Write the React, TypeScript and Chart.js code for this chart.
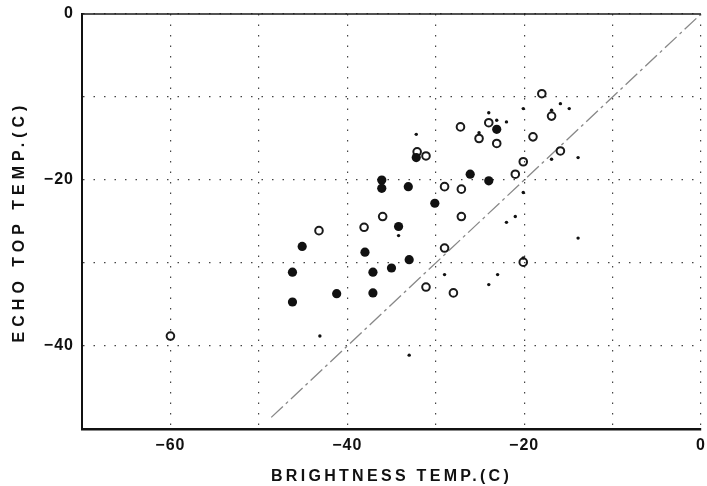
import { useEffect, useRef } from 'react';
import { Chart, registerables } from 'chart.js';

Chart.register(...registerables);

// Open circles
const openX = [-60.0, -43.2, -38.1, -36.0, -32.1, -31.1, -31.1, -29.0, -29.0, -28.0, -27.2, -27.1, -27.1, -25.1, -24.0, -23.1, -21.0, -20.1, -20.1, -19.0, -18.0, -16.9, -15.9];
const openY = [-38.8, -26.1, -25.7, -24.4, -16.6, -17.1, -32.9, -20.8, -28.2, -33.6, -13.6, -21.1, -24.4, -15.0, -13.1, -15.6, -19.3, -17.8, -29.9, -14.8, -9.6, -12.3, -16.5];

// Filled circles
const filledX = [-46.2, -46.2, -45.1, -41.2, -38.0, -37.1, -37.1, -36.1, -36.1, -35.0, -34.2, -33.1, -33.0, -32.2, -30.1, -26.1, -24.0, -23.1];
const filledY = [-31.1, -34.7, -28.0, -33.7, -28.7, -31.1, -33.6, -20.0, -21.0, -30.6, -25.6, -20.8, -29.6, -17.3, -22.8, -19.3, -20.1, -13.9];

// Small dots
const dotX = [-43.1, -34.2, -33.0, -32.2, -29.0, -25.1, -24.0, -24.0, -23.1, -23.0, -22.0, -22.0, -21.0, -20.1, -20.1, -20.1, -16.9, -16.9, -15.9, -14.9, -13.9, -13.9];
const dotY = [-38.8, -26.7, -41.1, -14.5, -31.4, -14.3, -11.9, -32.6, -12.8, -31.4, -13.0, -25.1, -24.4, -11.4, -21.5, -29.4, -11.6, -17.5, -10.8, -11.4, -17.3, -27.0];

// 1:1 reference line
const refX = [-48.6, 0];
const refY = [-48.6, 0];

const xTitle = 'BRIGHTNESS TEMP.(C)';
const yTitle = 'ECHO TOP TEMP.(C)';
const xMin = -70, xMax = 0, yMin = -50, yMax = 0;
const gridStep = 10;
const labelStep = 20;

const FONT = "'Liberation Sans', Arial, Helvetica, sans-serif";

function pts(xs: number[], ys: number[]) {
  return xs.map((x, i) => ({ x, y: ys[i] }));
}

function fmt(v: number) {
  if (v % labelStep !== 0) return '';
  return v < 0 ? '\u2212' + Math.abs(v) : String(v);
}

function spacer(titleSpacing: string, labelSpacing: string) {
  return (scale: any) => {
    if (scale.__patched) return;
    scale.__patched = true;
    const dt = scale.drawTitle.bind(scale);
    const dl = scale.drawLabels.bind(scale);
    scale.drawTitle = () => {
      const c = scale.ctx;
      c.save();
      c.letterSpacing = titleSpacing;
      dt();
      c.restore();
    };
    scale.drawLabels = (a: any) => {
      const c = scale.ctx;
      c.save();
      c.letterSpacing = labelSpacing;
      dl(a);
      c.restore();
    };
  };
}

const frameTop = {
  id: 'frameTop',
  afterDatasetsDraw(chart: any) {
    const { ctx, chartArea: a } = chart;
    ctx.save();
    ctx.strokeStyle = '#1a1a1a';
    ctx.lineWidth = 1.6;
    ctx.beginPath();
    ctx.moveTo(a.left, a.top);
    ctx.lineTo(a.right, a.top);
    ctx.stroke();
    ctx.restore();
  },
};

export default function App() {
  const ref = useRef<HTMLCanvasElement>(null);
  useEffect(() => {
    if (!ref.current) return;
    const xPatch = spacer('3.3px', '1px');
    const yPatch = spacer('5px', '1px');
    const chart = new Chart(ref.current, {
      type: 'scatter',
      data: {
        datasets: [
          {
            label: '1:1',
            data: pts(refX, refY),
            showLine: true,
            borderColor: '#888',
            borderWidth: 1.3,
            borderDash: [16, 4, 3, 4],
            pointRadius: 0,
            order: 10,
          } as any,
          {
            label: 'open',
            data: pts(openX, openY),
            pointRadius: 3.8,
            borderWidth: 2,
            borderColor: '#1a1a1a',
            backgroundColor: 'rgba(255,255,255,0)',
            order: 2,
          },
          {
            label: 'filled',
            data: pts(filledX, filledY),
            pointRadius: 4.6,
            borderWidth: 0,
            backgroundColor: '#111',
            order: 1,
          },
          {
            label: 'dots',
            data: pts(dotX, dotY),
            pointRadius: 1.7,
            borderWidth: 0,
            backgroundColor: '#111',
            order: 0,
          },
        ],
      },
      options: {
        responsive: false,
        animation: false,
        layout: { padding: { top: 14, right: 1, left: 0, bottom: 0 } },
        plugins: { legend: { display: false }, tooltip: { enabled: false } },
        scales: {
          x: {
            type: 'linear',
            min: xMin,
            max: xMax,
            ticks: {
              stepSize: gridStep,
              callback: (v: any) => fmt(Number(v)),
              font: { family: FONT, size: 16, weight: 'bold' },
              color: '#111',
              padding: 7,
              maxRotation: 0,
              autoSkip: false,
            },
            grid: { color: '#444', lineWidth: 1.2, drawTicks: false },
            border: { display: true, color: '#111', width: 2.5, dash: [1.5, 9] },
            title: {
              display: true,
              text: xTitle,
              color: '#111',
              font: { family: FONT, size: 16, weight: 'bold' },
              padding: { top: 0, bottom: 0 },
            },
            afterFit: (s: any) => {
              s.height = 57;
              s.paddingLeft = 0;
              s.paddingRight = 0;
              xPatch(s);
            },
          },
          y: {
            type: 'linear',
            min: yMin,
            max: yMax,
            ticks: {
              stepSize: gridStep,
              callback: (v: any) => fmt(Number(v)),
              font: { family: FONT, size: 16, weight: 'bold' },
              color: '#111',
              padding: 8,
              autoSkip: false,
            },
            grid: { color: '#444', lineWidth: 1.2, drawTicks: false },
            border: { display: true, color: '#111', width: 2, dash: [1.5, 9] },
            title: {
              display: true,
              text: yTitle,
              color: '#111',
              font: { family: FONT, size: 16, weight: 'bold' },
              padding: { top: 10, bottom: 0 },
            },
            afterFit: (s: any) => {
              s.width = 82;
              s.paddingTop = 0;
              s.paddingBottom = 0;
              yPatch(s);
            },
          },
        },
      },
      plugins: [frameTop],
    } as any);
    return () => chart.destroy();
  }, []);

  return (
    <div style={{ position: 'absolute', left: 0, top: 0, width: 707, height: 486, background: '#fff' }}>
      <canvas ref={ref} width={707} height={486} style={{ display: 'block' }} />
    </div>
  );
}
